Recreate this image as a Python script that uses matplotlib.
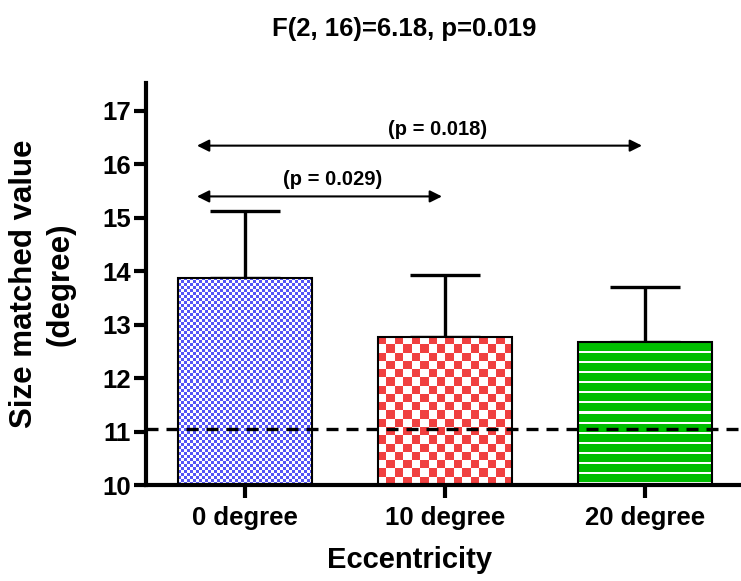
import numpy as np
import matplotlib
matplotlib.use("Agg")
import matplotlib.pyplot as plt

plt.rcParams['font.family'] = ['Liberation Sans', 'DejaVu Sans']
plt.rcParams['font.weight'] = 'bold'

# Data
categories = ["0 degree", "10 degree", "20 degree"]
means = [13.88, 12.77, 12.68]
sem_upper = [1.25, 1.16, 1.03]
reference_level = 11.05
comparisons = [(0, 1, "(p = 0.029)"), (0, 2, "(p = 0.018)")]
title = "F(2, 16)=6.18, p=0.019"

fig = plt.figure(figsize=(7.41, 5.81), dpi=100)
ax = fig.add_axes([0.197, 0.165, 0.803, 0.692])

x = np.arange(len(categories))
width = 0.67

# error bars (upper only), drawn beneath the bars
ax.errorbar(x, means, yerr=[np.zeros(len(means)), sem_upper], fmt='none',
            ecolor='black', elinewidth=2.4, capsize=25, capthick=2.4, zorder=1)

bars = ax.bar(x, means, width=width, bottom=0, color='none',
              edgecolor='black', linewidth=1.5, zorder=3)


def checker(ny, nx, color):
    img = np.ones((ny, nx, 3))
    yy, xx = np.mgrid[0:ny, 0:nx]
    img[(yy + xx) % 2 == 0] = color
    return img


def stripes(ny, color, period=10, line=2):
    img = np.ones((ny, 1, 3))
    for i in range(ny):
        if (i % period) >= line:
            img[i, 0] = color
    return img


# fill textures, sized to the pixel scale of each bar
px_per_x = 200.0
px_per_y = 53.5
for i, b in enumerate(bars):
    x0 = b.get_x()
    x1 = x0 + b.get_width()
    h_px = (means[i] - 10) * px_per_y
    w_px = width * px_per_x
    if i == 0:
        cell = 3.0
        img = checker(int(round(h_px / cell)), int(round(w_px / cell)),
                      np.array([85, 85, 245]) / 255)
    elif i == 1:
        cell = 8.2
        img = checker(int(round(h_px / cell)), int(round(w_px / cell)),
                      np.array([240, 64, 64]) / 255)
    else:
        img = stripes(int(round(h_px)), np.array([0, 190, 0]) / 255)
    im = ax.imshow(img, extent=(x0, x1, 10, means[i]), origin='upper',
                   interpolation='nearest', aspect='auto', zorder=2)
    im.set_clip_path(b)

ax.set_aspect('auto')
ax.set_xlim(-0.495, 2.48)
ax.set_ylim(10, 17.52)

# dashed reference line
ax.axhline(reference_level, color='black', linestyle=(0, (3.6, 2.4)),
           linewidth=2.4, zorder=4)

# comparison arrows with p-value labels
arrow_y = [15.4, 16.35]
label_x = [0.44, 0.965]
for (a, bidx, label), yv, lx in zip(comparisons, arrow_y, label_x):
    ax.annotate('', xy=(x[a] - 0.24, yv), xytext=(x[bidx] - 0.015, yv),
                arrowprops=dict(arrowstyle='<|-|>', color='black', lw=1.5,
                                mutation_scale=18, shrinkA=0, shrinkB=0))
    ax.text(lx, yv + 0.13, label, ha='center', va='bottom',
            fontsize=14.5, fontweight='bold')

ax.set_xticks(x)
ax.set_xticklabels(categories, fontsize=18.5, fontweight='bold')
ax.set_yticks(np.arange(10, 18))
ax.tick_params(axis='y', labelsize=18.5, width=3, length=9, direction='out',
               pad=2)
ax.tick_params(axis='x', width=3, length=9, direction='out', pad=6)
for lab in ax.get_yticklabels():
    lab.set_fontweight('bold')

for s in ['top', 'right']:
    ax.spines[s].set_visible(False)
for s in ['left', 'bottom']:
    ax.spines[s].set_linewidth(3)

fig.text(42 / 741, 1 - 284 / 581, "Size matched value\n(degree)",
         rotation=90, ha='center', va='center', multialignment='center',
         fontsize=22.5, fontweight='bold', linespacing=1.3)
fig.text(410 / 741, 1 - 560 / 581, "Eccentricity", ha='center', va='center',
         fontsize=21, fontweight='bold')
fig.text(404 / 741, 1 - 36 / 581, title, ha='center', va='baseline',
         fontsize=18.5, fontweight='bold')

fig.savefig("out.png", dpi=100)
